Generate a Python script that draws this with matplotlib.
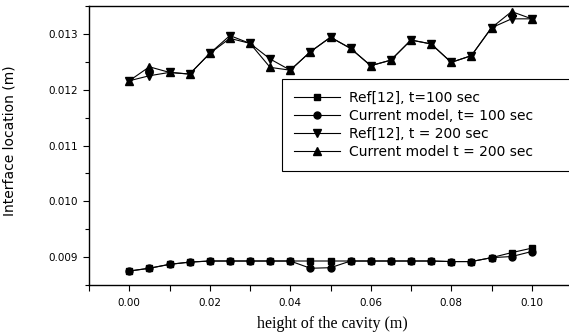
import numpy as np
import matplotlib
matplotlib.use('Agg')
import matplotlib.pyplot as plt
from matplotlib.ticker import MultipleLocator, FormatStrFormatter

# height of the cavity (m)
height = [0.000, 0.005, 0.010, 0.015, 0.020, 0.025, 0.030, 0.035, 0.040, 0.045, 0.050,
          0.055, 0.060, 0.065, 0.070, 0.075, 0.080, 0.085, 0.090, 0.095, 0.100]

# interface location (m)
ref_100 = [0.00875, 0.00880, 0.00887, 0.00891, 0.00893, 0.00893, 0.00893, 0.00893, 0.00893, 0.00893, 0.00893,
           0.00893, 0.00893, 0.00893, 0.00893, 0.00893, 0.00892, 0.00892, 0.00899, 0.00908, 0.00916]
cur_100 = [0.00875, 0.00880, 0.00887, 0.00891, 0.00893, 0.00893, 0.00893, 0.00893, 0.00893, 0.00880, 0.00881,
           0.00893, 0.00893, 0.00893, 0.00893, 0.00893, 0.00892, 0.00892, 0.00899, 0.00901, 0.00910]
ref_200 = [0.01216, 0.01225, 0.01231, 0.01228, 0.01265, 0.01297, 0.01283, 0.01255, 0.01235, 0.01268, 0.01294,
           0.01274, 0.01243, 0.01253, 0.01289, 0.01282, 0.01249, 0.01261, 0.01311, 0.01327, 0.01327]
cur_200 = [0.01216, 0.01241, 0.01231, 0.01228, 0.01265, 0.01292, 0.01283, 0.01240, 0.01235, 0.01268, 0.01294,
           0.01274, 0.01243, 0.01253, 0.01289, 0.01282, 0.01249, 0.01261, 0.01311, 0.01340, 0.01327]

labels = ['Ref[12], t=100 sec', 'Current model, t= 100 sec',
          'Ref[12], t = 200 sec', 'Current model t = 200 sec']

plt.rcParams['font.family'] = 'DejaVu Sans'

fig = plt.figure(figsize=(5.69, 3.33), dpi=100)
# axes run a bit past the right edge, like the original (right spine cut off)
ax = fig.add_axes([89/569., 1-285/333., 483/569., 279/333.])

lw = 0.8
ax.plot(height, ref_100, '-s', color='k', lw=lw, ms=5, label=labels[0])
ax.plot(height, cur_100, '-o', color='k', lw=lw, ms=5, label=labels[1])
ax.plot(height, ref_200, '-v', color='k', lw=lw, ms=6, label=labels[2])
ax.plot(height, cur_200, '-^', color='k', lw=lw, ms=6, label=labels[3])

ax.set_xlim(-0.01, 0.11)
ax.set_ylim(0.0085, 0.0135)

ax.xaxis.set_major_locator(MultipleLocator(0.02))
ax.xaxis.set_minor_locator(MultipleLocator(0.01))
ax.yaxis.set_major_locator(MultipleLocator(0.001))
ax.yaxis.set_minor_locator(MultipleLocator(0.0005))
ax.xaxis.set_major_formatter(FormatStrFormatter('%.2f'))
ax.yaxis.set_major_formatter(FormatStrFormatter('%.3f'))

ax.tick_params(axis='both', which='both', direction='out', width=0.8,
               top=False, right=False, labelsize=7.5)
ax.tick_params(axis='x', which='both', length=4, pad=5)
ax.tick_params(axis='y', which='major', length=4.5, pad=3.5)
ax.tick_params(axis='y', which='minor', length=3)
for s in ax.spines.values():
    s.set_linewidth(1.0)

ax.set_xlabel('height of the cavity (m)', family='Liberation Serif', fontsize=11.5)
ax.set_ylabel('Interface location (m)', fontsize=10)
ax.xaxis.set_label_coords((332-89)/483., -(316-285)/279.)
ax.yaxis.set_label_coords((17-89)/483., (285-141)/279.)

leg = ax.legend(loc='upper left', mode='expand', borderaxespad=0,
                bbox_to_anchor=(282/569., 0, 0.6, 1-79/333.),
                bbox_transform=fig.transFigure,
                fontsize=10, handlelength=3.3, handletextpad=0.7,
                labelspacing=0.3, borderpad=0.85, fancybox=False, framealpha=1)
leg.get_frame().set_edgecolor('k')
leg.get_frame().set_linewidth(0.8)

fig.savefig('out.png', dpi=100)
